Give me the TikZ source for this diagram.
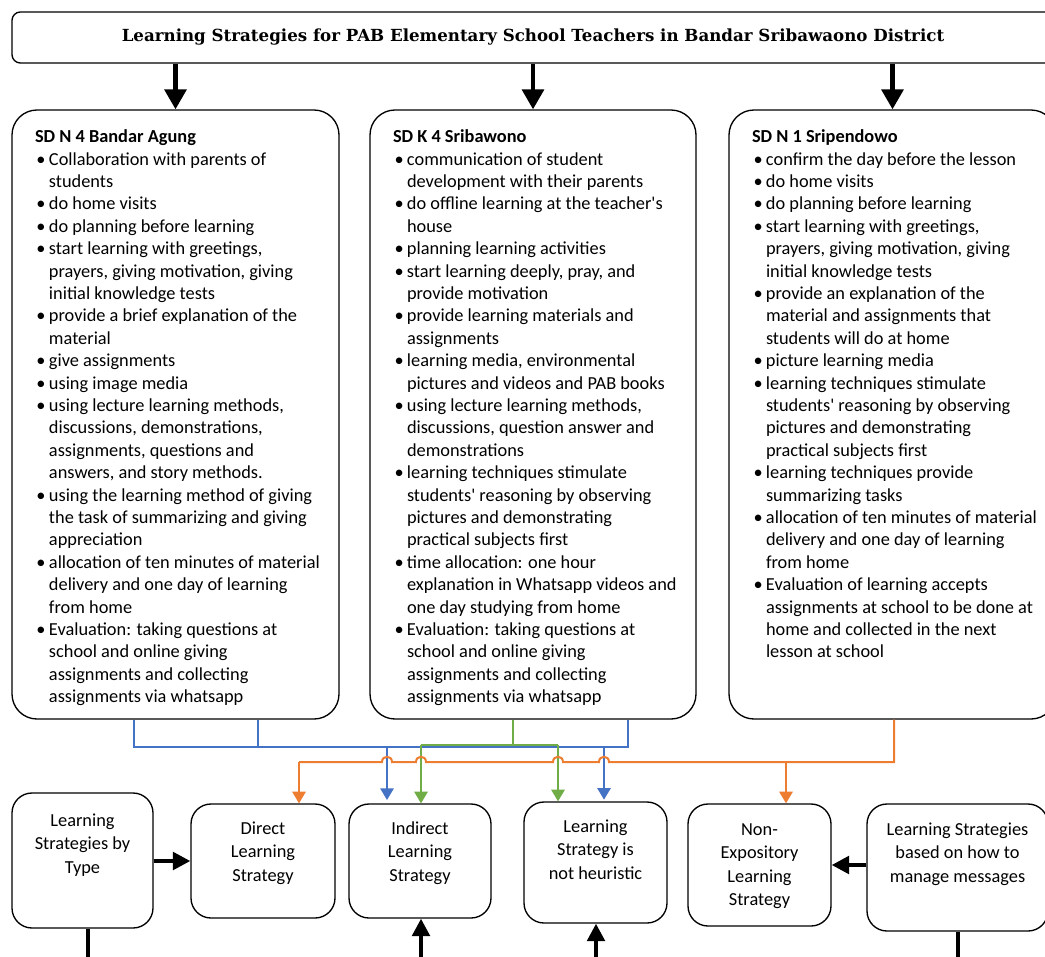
\documentclass[tikz,border=0pt]{standalone}
\usepackage{fontspec}
\setmainfont{Carlito}
\newfontfamily\titlefont{DejaVu Serif}
\usetikzlibrary{arrows.meta}

\definecolor{linkblue}{HTML}{4472C4}
\definecolor{linkorange}{HTML}{ED7D31}
\definecolor{linkgreen}{HTML}{70AD47}

\newlength{\unitpx}
\setlength{\unitpx}{0.6pt}

% one bullet line with hanging indent
\newcommand{\bitem}{\par\noindent\hangindent=14\unitpx\hangafter=1\makebox[14\unitpx][l]{\hspace{1.5\unitpx}\textbullet}}
% text of a school box: width, content
\newcommand{\schooltext}[2]{\parbox[c][609\unitpx][t]{#1\unitpx}{\raggedright\leftskip=23\unitpx\rightskip=-30\unitpx plus 1fil\fontsize{11}{13.44}\selectfont\vspace*{17\unitpx}#2\par}}
% text of a strategy box: width, height, top gap, content
\newcommand{\lowtext}[4]{\parbox[c][#2\unitpx][t]{#1\unitpx}{\centering\fontsize{11}{14.1}\selectfont\vspace*{#3\unitpx}\strut #4\par}}

\begin{document}
\begin{tikzpicture}[x=0.6pt, y=-0.6pt]
    % Styles
    \tikzstyle{titlebox} = [draw, line width=0.8pt, rounded corners=5pt, minimum width=625.2pt, minimum height=30.6pt, inner sep=0pt]
    \tikzstyle{schoolbox} = [draw, line width=0.8pt, rounded corners=15pt, inner sep=0pt]
    \tikzstyle{lowbox} = [draw, line width=0.8pt, rounded corners=12pt, inner sep=0pt]
    \tikzstyle{toparrow} = [line width=2.6pt, -{Triangle[width=13pt,length=12pt]}]
    \tikzstyle{lowarrow} = [line width=2.4pt, -{Triangle[width=10.5pt,length=10.5pt]}]
    \tikzstyle{lowline} = [line width=2.4pt]
    \tikzstyle{blueline} = [linkblue, line width=1.2pt]
    \tikzstyle{greenline} = [linkgreen, line width=1.2pt]
    \tikzstyle{orangeline} = [linkorange, line width=1.2pt]
    \tikzstyle{colarrow} = [-{Triangle[width=8pt,length=7pt]}]

    \useasboundingbox (0,0) rectangle (1045,956);
    \clip (0,0) rectangle (1045,956);

    % Nodes
    \node[titlebox] (title) at (533,37.5)
        {\titlefont\fontsize{10}{12}\selectfont\bfseries Learning Strategies for PAB Elementary School Teachers in Bandar Sribawaono District};

    \node[schoolbox] (b1) at (175.5,414.5) {\schooltext{327}{%
        \textbf{\strut SD N 4 Bandar Agung}
        \bitem Collaboration with parents of\newline students
        \bitem do home visits
        \bitem do planning before learning
        \bitem start learning with greetings,\newline prayers, giving motivation, giving\newline initial knowledge tests
        \bitem provide a brief explanation of the\newline material
        \bitem give assignments
        \bitem using image media
        \bitem using lecture learning methods,\newline discussions, demonstrations,\newline assignments, questions and\newline answers, and story methods.
        \bitem using the learning method of giving\newline the task of summarizing and giving\newline appreciation
        \bitem allocation of ten minutes of material\newline delivery and one day of learning\newline from home
        \bitem Evaluation: taking questions at\newline school and online giving\newline assignments and collecting\newline assignments via whatsapp}};

    \node[schoolbox] (b2) at (533,414.5) {\schooltext{326}{%
        \textbf{\strut SD K 4 Sribawono}
        \bitem communication of student\newline development with their parents
        \bitem do offline learning at the teacher\textquotesingle s\newline house
        \bitem planning learning activities
        \bitem start learning deeply, pray, and\newline provide motivation
        \bitem provide learning materials and\newline assignments
        \bitem learning media, environmental\newline pictures and videos and PAB books
        \bitem using lecture learning methods,\newline discussions, question answer and\newline demonstrations
        \bitem learning techniques stimulate\newline students\textquotesingle\ reasoning by observing\newline pictures and demonstrating\newline practical subjects first
        \bitem time allocation: one hour\newline explanation in Whatsapp videos and\newline one day studying from home
        \bitem Evaluation: taking questions at\newline school and online giving\newline assignments and collecting\newline assignments via whatsapp}};

    \node[schoolbox] (b3) at (892.5,414.5) {\schooltext{327}{%
        \textbf{\strut SD N 1 Sripendowo}
        \bitem confirm the day before the lesson
        \bitem do home visits
        \bitem do planning before learning
        \bitem start learning with greetings,\newline prayers, giving motivation, giving\newline initial knowledge tests
        \bitem provide an explanation of the\newline material and assignments that\newline students will do at home
        \bitem picture learning media
        \bitem learning techniques stimulate\newline students\textquotesingle\ reasoning by observing\newline pictures and demonstrating\newline practical subjects first
        \bitem learning techniques provide\newline summarizing tasks
        \bitem allocation of ten minutes of material\newline delivery and one day of learning\newline from home
        \bitem Evaluation of learning accepts\newline assignments at school to be done at\newline home and collected in the next\newline lesson at school}};

    \node[lowbox] (type) at (82.5,860.5) {\lowtext{141}{135}{17}{Learning\\Strategies by\\Type}};
    \node[lowbox] (direct) at (263,861) {\lowtext{144}{114}{14}{Direct\\Learning\\Strategy}};
    \node[lowbox] (indirect) at (420,861) {\lowtext{142}{114}{14}{Indirect\\Learning\\Strategy}};
    \node[lowbox] (nonheur) at (595.5,862.5) {\lowtext{143}{121}{14}{Learning\\Strategy is\\not heuristic}};
    \node[lowbox] (nonexp) at (759.5,865) {\lowtext{143}{122}{15}{Non-\\Expository\\Learning\\Strategy}};
    \node[lowbox] (manage) at (957.5,867.5) {\lowtext{181}{127}{15}{Learning Strategies\\based on how to\\manage messages}};

    % Junctions
    \coordinate (bj1) at (134,747);
    \coordinate (bj2) at (258,747);
    \coordinate (bj3) at (628,747);
    \coordinate (bd1) at (387,747);
    \coordinate (bd2) at (604,747);
    \coordinate (gj0) at (513,745);
    \coordinate (gd1) at (421,745);
    \coordinate (gd2) at (558,745);
    \coordinate (oj0) at (894,762);
    \coordinate (od1) at (299,762);
    \coordinate (od2) at (786,762);
    \coordinate (typeout) at (88,975);
    \coordinate (indirin) at (421,975);
    \coordinate (nonheurin) at (596,975);
    \coordinate (manageout) at (958,975);

    % Arrows
    \foreach \school in {b1,b2,b3}
        \draw[toparrow] (title.south -| \school.north) -- (\school.north);

    \draw[blueline] (b1.south -| bj1) |- (bj3) -- (b2.south -| bj3);
    \draw[blueline] (b1.south -| bj2) -- (bj2);
    \draw[blueline, colarrow, shorten >=2pt] (bd1) -- (indirect.north -| bd1);
    \draw[blueline, colarrow, shorten >=1pt] (bd2) -- (nonheur.north -| bd2);

    \draw[greenline] (b2.south -| gj0) -- (gj0);
    \draw[greenline] (gd1) -- (gd2);
    \draw[greenline, colarrow] (gd1) -- (indirect.north -| gd1);
    \draw[greenline, colarrow] (gd2) -- (nonheur.north -| gd2);

    \draw[orangeline] (b3.south -| oj0) -- (oj0)
        \foreach \hx in {604,558,421,387} { -- (\hx+5,762) .. controls (\hx+5,755) and (\hx-5,755) .. (\hx-5,762) }
        -- (od1);
    \draw[orangeline, colarrow] (od1) -- (direct.north -| od1);
    \draw[orangeline, colarrow] (od2) -- (nonexp.north -| od2);

    \draw[lowarrow] (type.east |- direct.west) -- (direct.west);
    \draw[lowarrow] (manage.west |- nonexp.east) -- (nonexp.east);
    \draw[lowline] (type.south -| typeout) -- (typeout);
    \draw[lowarrow] (indirin) -- (indirect.south -| indirin);
    \draw[lowarrow] (nonheurin) -- (nonheur.south -| nonheurin);
    \draw[lowline] (manage.south -| manageout) -- (manageout);

\end{tikzpicture}
\end{document}
